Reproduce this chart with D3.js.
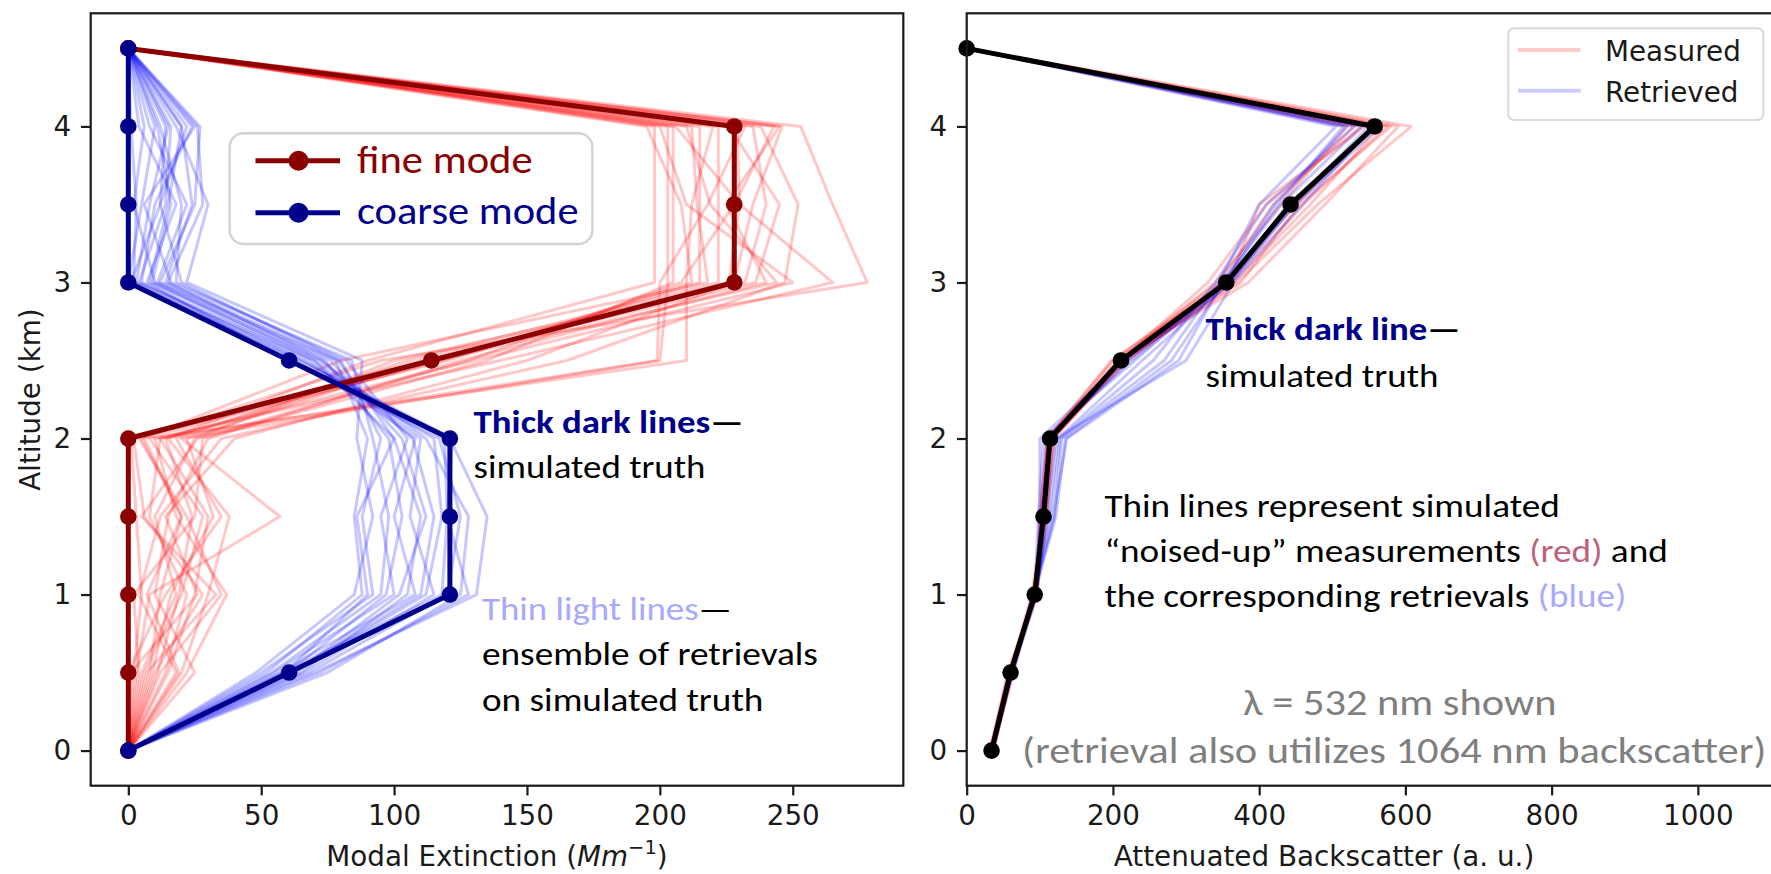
<!DOCTYPE html>
<html>
<head>
<meta charset="utf-8">
<script src="https://cdn.jsdelivr.net/npm/d3@7"></script>
<style>
body { margin: 0; background: #fff; }
.tick text { font-family: "DejaVu Sans", sans-serif; font-size: 27.8px; fill: #1a1a1a; }
.tick line { stroke: #1a1a1a; stroke-width: 2.2; }
.axis-label { font-family: "DejaVu Sans", sans-serif; font-size: 27.8px; fill: #1a1a1a; }
</style>
</head>
<body>
<div id="chart"></div>
<script>
// altitude levels (km) shared by every profile
var altitudes = [0, 0.5, 1, 1.5, 2, 2.5, 3, 3.5, 4, 4.5];

// left panel: modal extinction (Mm^-1)
var fineTruth = [0, 0, 0, 0, 0, 114, 228, 228, 228, 0];
var coarseTruth = [0, 60.5, 121, 121, 121, 60.5, 0, 0, 0, 0];

var fineRetrievals = [
    [0, 2, 5, 3, 1, 110, 226, 230, 229, 0],
    [0, 8, 12, 20, 6, 118, 215, 215, 215, 0],
    [0, 15, 25, 30, 12, 130, 250, 210, 200, 0],
    [0, 5, 18, 10, 25, 100, 232, 240, 235, 0],
    [0, 20, 30, 38, 15, 90, 198, 198, 198, 0],
    [0, 3, 8, 57, 20, 200, 203, 203, 203, 0],
    [0, 12, 35, 22, 4, 95, 278, 265, 253, 0],
    [0, 25, 10, 15, 30, 125, 240, 225, 245, 0],
    [0, 6, 20, 28, 8, 210, 210, 212, 220, 0],
    [0, 18, 4, 12, 35, 165, 247, 252, 238, 0],
    [0, 10, 28, 6, 2, 120, 212, 208, 195, 0],
    [0, 0, 14, 35, 18, 105, 222, 222, 222, 0],
    [0, 22, 37, 18, 10, 140, 265, 230, 206, 0],
    [0, 4, 2, 25, 28, 135, 205, 205, 205, 0],
    [0, 14, 22, 8, 12, 199, 200, 218, 232, 0],
    [0, 9, 16, 32, 22, 112, 236, 245, 226, 0],
    [0, 19, 7, 20, 5, 80, 218, 214, 212, 0],
    [0, 1, 26, 14, 40, 150, 228, 235, 246, 0],
    [0, 11, 19, 24, 14, 116, 244, 219, 210, 0],
    [0, 7, 33, 5, 26, 128, 208, 228, 243, 0]
];

var coarseRetrievals = [
    [0, 58, 118, 120, 119, 62, 2, 3, 1, 0],
    [0, 65, 105, 110, 100, 70, 8, 15, 20, 0],
    [0, 52, 88, 85, 90, 78, 12, 25, 27, 0],
    [0, 70, 131, 135, 121, 64, 0, 5, 10, 0],
    [0, 55, 100, 95, 105, 82, 18, 20, 12, 0],
    [0, 62, 112, 118, 115, 66, 5, 10, 24, 0],
    [0, 48, 85, 92, 86, 88, 22, 30, 18, 0],
    [0, 75, 125, 128, 112, 72, 10, 2, 6, 0],
    [0, 60, 97, 103, 98, 74, 15, 28, 26, 0],
    [0, 57, 108, 100, 108, 68, 3, 8, 15, 0],
    [0, 68, 120, 125, 117, 60, 7, 18, 4, 0],
    [0, 50, 92, 88, 95, 80, 20, 12, 22, 0],
    [0, 63, 102, 112, 103, 76, 11, 22, 8, 0],
    [0, 66, 115, 106, 110, 70, 4, 14, 16, 0],
    [0, 54, 95, 98, 92, 84, 16, 6, 25, 0],
    [0, 72, 128, 120, 122, 65, 1, 12, 14, 0],
    [0, 59, 90, 86, 100, 79, 14, 24, 20, 0],
    [0, 61, 110, 115, 107, 73, 9, 16, 11, 0]
];

// right panel: attenuated backscatter (a. u.)
var backscatterTruth = [34, 60, 93, 105, 114, 211, 355, 443, 558, 0];

var backscatterMeasured = [
    [33, 58, 95, 102, 112, 205, 350, 450, 560, 0],
    [36, 62, 90, 108, 118, 215, 370, 480, 608, 0],
    [31, 57, 96, 100, 110, 200, 345, 420, 530, 0],
    [35, 63, 92, 107, 116, 220, 360, 460, 575, 0],
    [34, 59, 89, 104, 113, 208, 385, 490, 590, 0],
    [37, 61, 94, 110, 120, 212, 340, 430, 520, 0],
    [32, 60, 97, 103, 111, 198, 358, 400, 545, 0],
    [35, 64, 91, 106, 115, 218, 365, 470, 565, 0],
    [33, 56, 93, 101, 109, 210, 330, 410, 540, 0],
    [36, 62, 95, 109, 117, 214, 375, 455, 580, 0]
];

var backscatterRetrieved = [
    [34, 61, 94, 112, 125, 240, 360, 445, 550, 0],
    [35, 59, 92, 118, 137, 290, 350, 420, 520, 0],
    [33, 62, 95, 100, 100, 215, 355, 440, 560, 0],
    [34, 60, 91, 120, 130, 270, 345, 400, 505, 0],
    [36, 63, 96, 108, 122, 300, 365, 460, 555, 0],
    [33, 58, 93, 98, 105, 230, 350, 430, 540, 0],
    [35, 61, 90, 115, 128, 255, 340, 410, 530, 0],
    [34, 60, 94, 104, 112, 220, 358, 450, 565, 0],
    [34, 62, 92, 122, 135, 280, 352, 425, 515, 0],
    [35, 59, 95, 102, 110, 225, 362, 448, 558, 0]
];

var altitudeTicks = [0, 1, 2, 3, 4];
var extinctionTicks = [0, 50, 100, 150, 200, 250];
var backscatterTicks = [0, 200, 400, 600, 800, 1000];

var svg = d3.select("#chart").append("svg")
    .attr("width", 1771)
    .attr("height", 874);

var frameTop = 13.3;
var frameBottom = 785.7;

var y = d3.scaleLinear().domain([-0.225, 4.725]).range([frameBottom, frameTop]);
var xExt = d3.scaleLinear().domain([-14.15, 291.6]).range([90.7, 903.3]);
var xBack = d3.scaleLinear().domain([0, 1126]).range([966.7, 1790]);

function profileLine(x) {
    return d3.line()
        .x(function (d) { return x(d); })
        .y(function (d, i) { return y(altitudes[i]); });
}

function drawFrame(x, ticks) {
    var left = x.range()[0];
    var right = x.range()[1];

    svg.append("g")
        .attr("transform", "translate(0," + frameBottom + ")")
        .call(d3.axisBottom(x).tickValues(ticks).tickFormat(d3.format("d")).tickSize(9.7).tickPadding(9.7))
        .call(function (g) { g.select(".domain").remove(); });

    svg.append("g")
        .attr("transform", "translate(" + left + ",0)")
        .call(d3.axisLeft(y).tickValues(altitudeTicks).tickFormat(d3.format("d")).tickSize(9.7).tickPadding(9.7))
        .call(function (g) { g.select(".domain").remove(); });

    svg.append("rect")
        .attr("x", left)
        .attr("y", frameTop)
        .attr("width", right - left)
        .attr("height", frameBottom - frameTop)
        .attr("fill", "none")
        .attr("stroke", "#1a1a1a")
        .attr("stroke-width", 2.2);
}

function drawEnsemble(x, profiles, color, opacity) {
    svg.append("g").selectAll("path")
        .data(profiles)
        .enter()
        .append("path")
        .attr("d", profileLine(x))
        .attr("fill", "none")
        .attr("stroke", color)
        .attr("stroke-opacity", opacity)
        .attr("stroke-width", 3)
        .attr("stroke-linejoin", "round");
}

function drawTruth(x, values, color) {
    svg.append("path")
        .datum(values)
        .attr("d", profileLine(x))
        .attr("fill", "none")
        .attr("stroke", color)
        .attr("stroke-width", 5)
        .attr("stroke-linejoin", "round");

    svg.append("g").selectAll("circle")
        .data(values)
        .enter()
        .append("circle")
        .attr("cx", function (d) { return x(d); })
        .attr("cy", function (d, i) { return y(altitudes[i]); })
        .attr("r", 8.3)
        .attr("fill", color);
}

// text boxes pasted on the figure, stretched to the widths they have in the original
function note(x, yBase, parts, width, size, weight) {
    var t = svg.append("text")
        .attr("transform", "translate(" + x + "," + yBase + ")")
        .style("font-family", "Carlito, Calibri, Lato, sans-serif")
        .style("font-size", size + "px")
        .style("font-weight", weight || "normal");
    parts.forEach(function (p) {
        t.append("tspan").attr("fill", p[1]).text(p[0]);
    });
    var w = t.node().getComputedTextLength();
    t.attr("transform", "translate(" + x + "," + yBase + ") scale(" + (width / w) + ",1)");
}

// ---- left panel ----
drawEnsemble(xExt, fineRetrievals, "#ff0000", 0.22);
drawEnsemble(xExt, coarseRetrievals, "#0000ff", 0.22);
drawTruth(xExt, fineTruth, "#8b0000");
drawTruth(xExt, coarseTruth, "#00008b");
drawFrame(xExt, extinctionTicks);

var xl = svg.append("text")
    .attr("class", "axis-label")
    .attr("x", 497)
    .attr("y", 866)
    .attr("text-anchor", "middle");
xl.append("tspan").text("Modal Extinction (");
xl.append("tspan").style("font-style", "italic").text("Mm");
xl.append("tspan").attr("dy", -12).style("font-size", "19.5px").text("\u22121");
xl.append("tspan").attr("dy", 12).text(")");

svg.append("text")
    .attr("class", "axis-label")
    .attr("transform", "translate(40,399.5) rotate(-90)")
    .attr("text-anchor", "middle")
    .text("Altitude (km)");

// left legend box
var legendLeft = svg.append("g");
legendLeft.append("rect")
    .attr("x", 229.6).attr("y", 133.3)
    .attr("width", 362.8).attr("height", 110.7)
    .attr("rx", 14)
    .attr("fill", "#fff")
    .attr("stroke", "#d4d4d4")
    .attr("stroke-width", 2.5);

var modeItems = [["fine mode", "#8b0000", 160.7, 173, 175.7], ["coarse mode", "#00008b", 212.7, 224, 221.6]];
modeItems.forEach(function (m) {
    legendLeft.append("line")
        .attr("x1", 255.5).attr("x2", 340)
        .attr("y1", m[2]).attr("y2", m[2])
        .attr("stroke", m[1]).attr("stroke-width", 5);
    legendLeft.append("circle")
        .attr("cx", 298.5).attr("cy", m[2]).attr("r", 10)
        .attr("fill", m[1]);
    note(357, m[3], [[m[0], m[1]]], m[4], 38);
});

note(473.6, 433, [["Thick dark lines", "#00008b"], ["\u2014", "#000"]], 270, 32, "bold");
note(473.6, 478, [["simulated truth", "#000"]], 232, 32);
note(482, 620, [["Thin light lines", "#a8a8ff"], ["\u2014", "#000"]], 250, 32);
note(482, 665, [["ensemble of retrievals", "#000"]], 336, 32);
note(482, 711, [["on simulated truth", "#000"]], 281.5, 32);

// ---- right panel ----
drawEnsemble(xBack, backscatterMeasured, "#ff0000", 0.22);
drawEnsemble(xBack, backscatterRetrieved, "#0000ff", 0.22);
drawTruth(xBack, backscatterTruth, "#000");
drawFrame(xBack, backscatterTicks);

svg.append("text")
    .attr("class", "axis-label")
    .attr("x", 1324)
    .attr("y", 866)
    .attr("text-anchor", "middle")
    .text("Attenuated Backscatter (a. u.)");

var legendRight = svg.append("g");
legendRight.append("rect")
    .attr("x", 1508.3).attr("y", 28.3)
    .attr("width", 255).attr("height", 91.7)
    .attr("rx", 6)
    .attr("fill", "#fff").attr("fill-opacity", 0.8)
    .attr("stroke", "#d9d9d9")
    .attr("stroke-width", 2);

var seriesItems = [["Measured", "#ff0000", 50, 61], ["Retrieved", "#0000ff", 90.7, 101.7]];
seriesItems.forEach(function (s) {
    legendRight.append("line")
        .attr("x1", 1518).attr("x2", 1580.7)
        .attr("y1", s[2]).attr("y2", s[2])
        .attr("stroke", s[1]).attr("stroke-opacity", 0.2)
        .attr("stroke-width", 4);
    legendRight.append("text")
        .attr("class", "axis-label")
        .attr("x", 1605).attr("y", s[3])
        .text(s[0]);
});

note(1205.6, 340, [["Thick dark line", "#00008b"], ["\u2014", "#000"]], 255, 32, "bold");
note(1205.6, 386.7, [["simulated truth", "#000"]], 233, 32);
note(1104.4, 516.7, [["Thin lines represent simulated", "#000"]], 455.6, 32);
note(1104.4, 561.7, [["\u201cnoised-up\u201d measurements ", "#000"], ["(red)", "#c0607a"], [" and", "#000"]], 563.6, 32);
note(1104.4, 606.7, [["the corresponding retrievals ", "#000"], ["(blue)", "#a9a9ff"]], 522, 32);
note(1243, 715, [["\u03bb = 532 nm shown", "#7f7f7f"]], 313.7, 36);
note(1022, 763.3, [["(retrieval also utilizes 1064 nm backscatter)", "#7f7f7f"]], 744.7, 36);
</script>
</body>
</html>
